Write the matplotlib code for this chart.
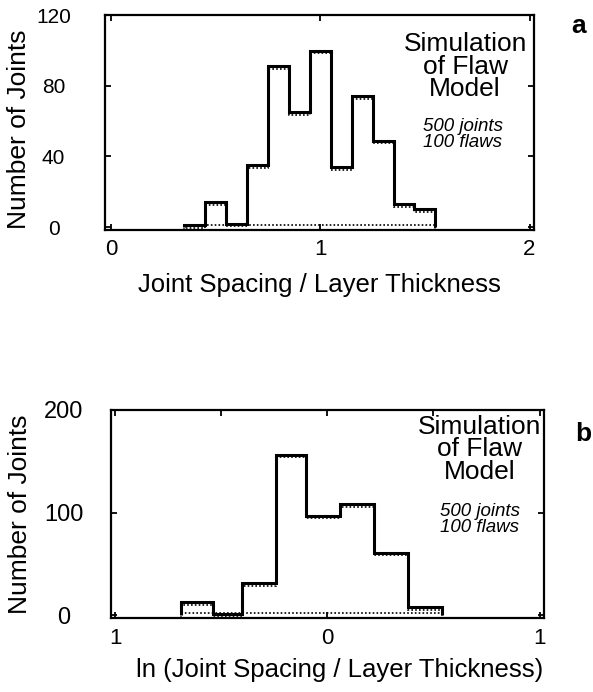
import numpy as np
import matplotlib
matplotlib.use('Agg')
import matplotlib.pyplot as plt
from matplotlib.transforms import offset_copy

plt.rcParams['font.family'] = ['Liberation Sans', 'DejaVu Sans']

# panel a: joint spacing / layer thickness
edges_a = [0.35, 0.45, 0.55, 0.65, 0.75, 0.85, 0.95, 1.05, 1.15, 1.25, 1.35, 1.45, 1.55]
counts_a = [1, 14, 2, 35, 91, 65, 100, 34, 74, 49, 13, 10]
yticks_a = [0, 40, 80, 120]
xticks_a = [0, 1, 2]

# panel b: ln(joint spacing / layer thickness)
edges_b = [-0.69, -0.54, -0.40, -0.24, -0.10, 0.06, 0.22, 0.38, 0.54]
counts_b = [13, 1, 31, 156, 97, 108, 61, 8]
yticks_b = [0, 100, 200]
xticks_b = [-1, 0, 1]
xminor_b = [-0.5, 0.5]
xticklabels_b = ['1', '0', '1']


def draw_hist(fig, ax, edges, counts):
    # dotted outline sitting just inside the solid one
    tr_down = offset_copy(ax.transData, fig=fig, y=-2.5, units='dots')
    ax.stairs(counts, edges, color='black', linewidth=1.2,
              linestyle=(0, (1, 1.3)), transform=tr_down)
    tr_up = offset_copy(ax.transData, fig=fig, y=2.5, units='dots')
    ax.hlines(0, edges[0], edges[-1], color='black', linewidth=1.2,
              linestyle=(0, (1, 1.3)), transform=tr_up)
    # solid step outline
    ax.stairs(counts, edges, color='black', linewidth=2.2)


def style_ax(ax, ysize, xsize, ypad):
    for s in ax.spines.values():
        s.set_linewidth(1.6)
    ax.tick_params(which='both', direction='in', length=4, width=1.3, top=True, right=True)
    ax.tick_params(axis='x', labelsize=xsize, pad=7)
    ax.tick_params(axis='y', labelsize=ysize, pad=ypad)
    for lab in ax.get_yticklabels():
        lab.set_horizontalalignment('center')


fig = plt.figure(figsize=(5.93, 6.92), dpi=100)

ax1 = fig.add_axes([0.177, 0.668, 0.723, 0.310])
draw_hist(fig, ax1, edges_a, counts_a)
ax1.set_xlim(-0.03, 2.02)
ax1.set_ylim(-1.5, 120)
ax1.set_xticks(xticks_a)
ax1.set_yticks(yticks_a)
style_ax(ax1, 15, 16, 37)
ax1.set_xlabel('Joint Spacing / Layer Thickness', fontsize=18.5, labelpad=9)
ax1.set_ylabel('Number of Joints', fontsize=19)
ax1.yaxis.set_label_coords(-0.172, 0.47)
ax1.text(0.84, 0.92, 'Simulation\nof Flaw\nModel', transform=ax1.transAxes,
         ha='center', va='top', fontsize=19, linespacing=0.92)
ax1.text(0.835, 0.52, '500 joints\n100 flaws', transform=ax1.transAxes,
         ha='center', va='top', fontsize=13.5, style='italic', linespacing=0.9)
fig.text(0.975, 0.962, 'a', fontsize=19, fontweight='bold', ha='center', va='center')

ax2 = fig.add_axes([0.187, 0.107, 0.730, 0.301])
draw_hist(fig, ax2, edges_b, counts_b)
ax2.set_xlim(-1.02, 1.02)
ax2.set_ylim(-2.5, 200)
ax2.set_xticks(xticks_b)
ax2.set_xticks(xminor_b, minor=True)
ax2.set_xticklabels(xticklabels_b)
ax2.set_yticks(yticks_b)
style_ax(ax2, 17, 16, 34)
ax2.tick_params(axis='x', which='minor', bottom=False)
ax2.set_xlabel('ln (Joint Spacing / Layer Thickness)', fontsize=18.5)
ax2.xaxis.set_label_coords(0.528, -0.19)
ax2.set_ylabel('Number of Joints', fontsize=19)
ax2.yaxis.set_label_coords(-0.183, 0.5)
ax2.text(0.852, 0.975, 'Simulation\nof Flaw\nModel', transform=ax2.transAxes,
         ha='center', va='top', fontsize=19, linespacing=0.92)
ax2.text(0.852, 0.55, '500 joints\n100 flaws', transform=ax2.transAxes,
         ha='center', va='top', fontsize=13.5, style='italic', linespacing=0.9)
fig.text(0.983, 0.373, 'b', fontsize=19, fontweight='bold', ha='center', va='center')

fig.savefig('out.png', dpi=100)
